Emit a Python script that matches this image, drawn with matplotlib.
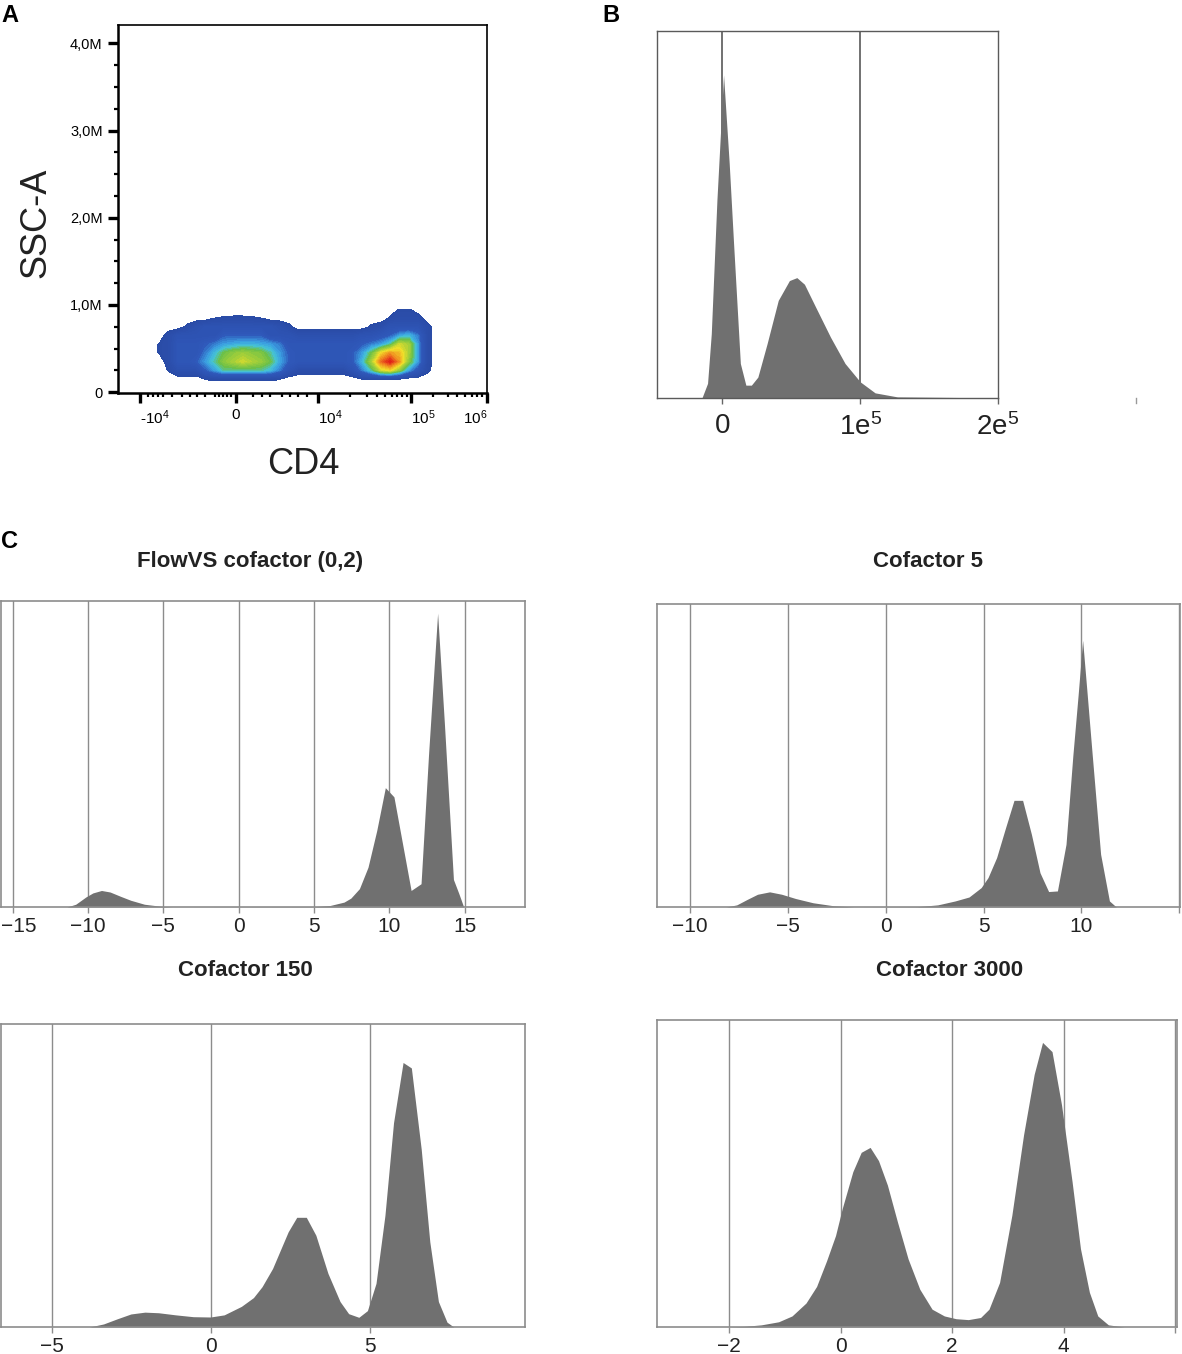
import numpy as np
import matplotlib
matplotlib.use("Agg")
import matplotlib.pyplot as plt
from matplotlib.colors import LinearSegmentedColormap
from matplotlib.ticker import FixedLocator
from matplotlib.transforms import ScaledTranslation

plt.rcParams['font.family'] = ['Liberation Sans', 'DejaVu Sans']
plt.rcParams['mathtext.fontset'] = 'custom'
plt.rcParams['mathtext.rm'] = 'Liberation Sans'
plt.rcParams['mathtext.it'] = 'Liberation Sans:italic'
plt.rcParams['mathtext.bf'] = 'Liberation Sans:bold'

# ---------------- panel A: CD4 vs SSC-A density ----------------
# CD4 in biexponential display channels (0..1000 across the axis), SSC-A in events units
cd4_channel = np.arange(62.5, 875, 25)          # 33 bin centres
ssc_centres = np.linspace(0.05, 0.95, 10) * 1e6  # 10 bin centres

# density level per bin, rows from SSC 0.95M (top) down to 0.05M
density_rows = [
    [0]*28 + [0.6, 0.6, 0, 0, 0],
    [0, 0, 0, 0, 0, 0, 0, 0, 0.5, 0.6, 0.65, 0.65, 0.6, 0.5, 0, 0, 0, 0, 0, 0, 0, 0, 0, 0, 0, 0, 0, 0.6, 1, 1, 1, 0, 0],
    [0, 0, 0, 0, 0, 0.7, 1.5, 2, 2, 2, 2, 2, 2, 2, 2, 1.5, 0.8, 0, 0, 0, 0, 0, 0, 0, 0, 0.7, 1, 2, 2, 2, 2, 1, 0],
    [0, 0, 0, 1, 2, 2, 2, 2, 2, 3, 3, 3, 3, 3, 2, 2, 2, 1.5, 1.5, 1.5, 1.5, 1.5, 1.5, 1.5, 2, 2, 2.5, 3, 4, 4.5, 3.5, 1, 0],
    [0, 0, 0.6, 1, 2.5, 2.5, 2.5, 3, 3.5, 4, 4.2, 4.4, 4.4, 4.2, 4, 3.5, 2.5, 2.5, 2.5, 2.5, 2.5, 2.5, 2.5, 2.5, 3, 3.5, 4, 5, 7, 6.5, 4, 1, 0],
    [0, 0, 0.6, 1, 2.5, 2.5, 2.5, 3.5, 4.5, 5.5, 6, 6.3, 6, 5.8, 5, 4, 3, 2.5, 2.5, 2.5, 2.5, 2.5, 2.5, 3, 4, 5.5, 7.5, 8.5, 8, 6.5, 4, 1, 0],
    [0, 0, 0, 1, 2.5, 2.5, 3, 4, 5, 6, 6.5, 7, 6.6, 6.2, 5.5, 4.2, 3, 2.5, 2.5, 2.5, 2.5, 2.5, 2.5, 3, 4.5, 6.5, 9, 10, 8.5, 6, 4, 1, 0],
    [0, 0, 0, 0.6, 1.5, 1.5, 1.5, 3, 4, 5, 5, 5, 5, 5, 4.5, 3.5, 2, 1, 1, 1, 1, 1, 1, 2, 3.5, 5, 7, 7.5, 6, 4, 2.5, 0.8, 0],
    [0, 0, 0, 0, 0, 0, 0, 0.55, 0.6, 0.6, 0.6, 0.6, 0.6, 0.6, 0.6, 0.55, 0, 0, 0, 0, 0, 0, 0, 0, 0.55, 0.55, 0.55, 0.55, 0.55, 0, 0, 0, 0],
    [0]*33,
]
density = np.array(density_rows)[::-1]

cd4_major = [60, 320, 542, 794, 1000]
cd4_labels = ['-10$^4$', '0', '10$^4$', '10$^5$', '10$^6$']
cd4_label_ha = ['left', 'center', 'left', 'left', 'right']
cd4_minor = [81, 95, 108, 122, 146, 173, 195, 214, 236, 263, 274, 285, 295, 306,
             366, 390, 412, 444, 466, 488, 512, 629, 675, 702, 724, 743, 756, 770, 783,
             854, 894, 919, 940, 959, 973, 986]
ssc_major = [0, 1e6, 2e6, 3e6, 4e6]
ssc_labels = ['0', '1,0M', '2,0M', '3,0M', '4,0M']
ssc_minor = [0.25e6, 0.5e6, 0.75e6, 1.25e6, 1.5e6, 1.75e6, 2.25e6, 2.5e6, 2.75e6,
             3.25e6, 3.5e6, 3.75e6]

# ---------------- panel B: raw CD4 histogram ----------------
b_x = [-0.149, -0.108, -0.081, -0.04, 0.008, 0.049, 0.081, 0.13, 0.17, 0.21, 0.257, 0.324,
       0.405, 0.486, 0.54, 0.595, 0.676, 0.784, 0.89, 1.0, 1.108, 1.27, 1.81, 2.0]
b_y = [0, 0.04, 0.175, 0.54, 0.88, 0.64, 0.42, 0.094, 0.035, 0.035, 0.057, 0.148,
       0.266, 0.32, 0.328, 0.31, 0.248, 0.166, 0.094, 0.044, 0.014, 0.003, 0.001, 0]
b_ticks = [0, 1e5, 2e5]
b_labels = ['0', '1e$^5$', '2e$^5$']

# ---------------- panel C: arcsinh transformed histograms ----------------
titles = ['FlowVS cofactor (0,2)', 'Cofactor 5', 'Cofactor 150', 'Cofactor 3000']

c1_x = [-11.4, -10.82, -10.14, -9.68, -9.11, -8.54, -7.85, -7.17, -6.26, -5.11, -4.43,
        5.0, 6.07, 6.99, 7.44, 8.01, 8.58, 9.16, 9.73, 10.3, 10.87, 11.44, 12.1, 12.6,
        13.2, 13.65, 14.25, 14.6, 14.93]
c1_y = [0, 0.009, 0.033, 0.046, 0.054, 0.049, 0.035, 0.022, 0.009, 0.002, 0,
        0.001, 0.005, 0.016, 0.029, 0.06, 0.13, 0.25, 0.39, 0.36, 0.207, 0.054, 0.076, 0.5,
        0.96, 0.6, 0.09, 0.045, 0]

c2_x = [-8.16, -7.62, -7.09, -6.56, -5.94, -5.32, -4.61, -3.72, -2.66, -1.6, 1.6, 2.66,
        3.55, 4.26, 4.88, 5.23, 5.67, 6.12, 6.56, 7.0, 7.45, 7.89, 8.33, 8.78, 9.22, 9.57,
        9.84, 10.07, 10.28, 10.55, 10.99, 11.44, 11.79]
c2_y = [0, 0.007, 0.025, 0.042, 0.05, 0.042, 0.028, 0.014, 0.004, 0, 0.001, 0.007,
        0.02, 0.033, 0.064, 0.097, 0.163, 0.26, 0.352, 0.352, 0.24, 0.113, 0.051, 0.053, 0.207, 0.5,
        0.70, 0.88, 0.72, 0.51, 0.174, 0.02, 0]

c3_x = [-3.82, -3.38, -2.95, -2.52, -2.08, -1.65, -1.11, -0.56, -0.02, 0.41, 0.95, 1.33,
        1.6, 1.93, 2.42, 2.69, 2.99, 3.29, 3.67, 4.05, 4.32, 4.64, 4.91, 5.18, 5.46, 5.73,
        6.03, 6.29, 6.6, 6.87, 7.14, 7.41, 7.62]
c3_y = [0, 0.01, 0.027, 0.043, 0.049, 0.047, 0.04, 0.034, 0.033, 0.04, 0.068, 0.097,
        0.133, 0.193, 0.314, 0.362, 0.362, 0.303, 0.177, 0.084, 0.044, 0.032, 0.054, 0.144, 0.368, 0.674,
        0.873, 0.855, 0.587, 0.281, 0.084, 0.016, 0]

c4_x = [-2.04, -1.73, -1.42, -1.11, -0.87, -0.62, -0.43, -0.25, -0.09, 0.03, 0.22, 0.37,
        0.53, 0.68, 0.84, 1.02, 1.21, 1.42, 1.64, 1.86, 2.07, 2.29, 2.51, 2.66, 2.85, 3.07,
        3.28, 3.47, 3.62, 3.79, 3.96, 4.15, 4.3, 4.46, 4.61, 4.8, 5.08]
c4_y = [0, 0.002, 0.007, 0.017, 0.036, 0.078, 0.132, 0.216, 0.298, 0.386, 0.506, 0.569,
        0.585, 0.542, 0.462, 0.342, 0.222, 0.123, 0.058, 0.036, 0.027, 0.024, 0.031, 0.058, 0.145, 0.364,
        0.626, 0.823, 0.927, 0.897, 0.724, 0.473, 0.255, 0.113, 0.036, 0.007, 0]

c_xs = [c1_x, c2_x, c3_x, c4_x]
c_ys = [c1_y, c2_y, c3_y, c4_y]
c_ticks = [[-15, -10, -5, 0, 5, 10, 15], [-10, -5, 0, 5, 10, 15], [-5, 0, 5], [-2, 0, 2, 4, 6]]
c_ticklabels = [['\u221215', '\u221210', '\u22125', '0', '5', '10', '15'],
                ['\u221210', '\u22125', '0', '5', '10', ''],
                ['\u22125', '0', '5'],
                ['\u22122', '0', '2', '4', '']]
c_xlims = [(-15.78, 19.0), (-11.7, 15.05), (-6.6, 9.86), (-3.29, 6.03)]

# ---------------- figure ----------------
W, H = 1182, 1354
fig = plt.figure(figsize=(W / 100, H / 100), dpi=100)


def px_box(l, t, r, b):
    return [l / W, 1 - b / H, (r - l) / W, (b - t) / H]


# panel A
axA = fig.add_axes(px_box(118, 25, 487, 393))
cmap = LinearSegmentedColormap.from_list('flow', [
    (0.0, '#2a4ba6'), (0.263, '#2f58ba'), (0.368, '#3a9de0'), (0.442, '#45c2d8'),
    (0.526, '#6cc048'), (0.632, '#a8d038'), (0.737, '#f2e02a'), (0.863, '#f08a20'),
    (1.0, '#e01818')])
axA.contourf(cd4_channel, ssc_centres, density, levels=np.linspace(0.5, 10.01, 40),
             cmap=cmap, vmin=0.5, vmax=10)
axA.set_xlim(0, 1000)
axA.set_ylim(-0.01e6, 4.21e6)
axA.set_xticks(cd4_major)
axA.set_xticklabels(cd4_labels)
for lab, ha in zip(axA.get_xticklabels(), cd4_label_ha):
    lab.set_ha(ha)
axA.xaxis.set_minor_locator(FixedLocator(cd4_minor))
axA.set_yticks(ssc_major)
axA.set_yticklabels(ssc_labels)
axA.yaxis.set_minor_locator(FixedLocator(ssc_minor))
axA.tick_params(which='major', length=7, width=2.4, color='black', labelsize=10.5, pad=4)
axA.tick_params(axis='x', which='major', labelsize=11)
axA.tick_params(which='minor', length=3.2, width=1.6, color='black')
for side in ['left', 'bottom']:
    axA.spines[side].set_linewidth(1.8)
for side in ['top', 'right']:
    axA.spines[side].set_linewidth(1.2)
fig.text(36 / W, 1 - 223 / H, 'SSC-A', rotation=90, ha='center', va='center',
         fontsize=26, color='#222222')
fig.text(303 / W, 1 - 464 / H, 'CD4', ha='center', va='center', fontsize=26, color='#222222')

# panel B
axB = fig.add_axes(px_box(657, 31, 998, 398))
axB.fill_between(np.array(b_x) * 1e5, b_y, 0, color='#707070', lw=0, zorder=2)
axB.set_xlim(-0.475e5, 2e5)
axB.set_ylim(0, 1)
axB.set_xticks(b_ticks)
axB.set_xticklabels(b_labels)
axB.set_yticks([])
axB.tick_params(axis='x', length=4, width=1, color='#666666', labelsize=20, pad=7,
                labelcolor='#222222')
for x in b_ticks[:2]:
    axB.axvline(x, color='#4a4a4a', lw=1.1, zorder=1)
axB.axvline(3e5, ymin=-0.014, ymax=0, color='#999999', lw=1, clip_on=False)
for sp in axB.spines.values():
    sp.set_color('#5a5a5a')
    sp.set_linewidth(1.0)

# panel C
c_boxes = [(1, 601, 525, 907), (657, 604, 1180, 907), (1, 1024, 525, 1327), (657, 1020, 1177, 1327)]
title_pos = [(250, 562), (928, 562), (245, 970), (950, 970)]
for i in range(4):
    ax = fig.add_axes(px_box(*c_boxes[i]))
    ax.fill_between(c_xs[i], c_ys[i], 0, color='#707070', lw=0, zorder=2)
    ax.set_xlim(*c_xlims[i])
    ax.set_ylim(0, 1)
    ax.set_xticks(c_ticks[i])
    ax.set_xticklabels(c_ticklabels[i])
    ax.set_yticks([])
    ax.grid(axis='x', color='#8c8c8c', lw=1.0, zorder=1)
    ax.set_axisbelow(True)
    ax.tick_params(axis='x', length=4, width=1, color='#8c8c8c', labelsize=15, pad=3,
                   labelcolor='#222222')
    for sp in ax.spines.values():
        sp.set_color('#8c8c8c')
        sp.set_linewidth(1.2)
    if i == 0:
        # first label sits a little right of its tick so it stays inside the figure
        first = ax.get_xticklabels()[0]
        first.set_transform(first.get_transform() + ScaledTranslation(6 / 100, 0, fig.dpi_scale_trans))
    tx, ty = title_pos[i]
    fig.text(tx / W, 1 - ty / H, titles[i], ha='center', va='center', fontsize=16,
             fontweight='bold', color='#222222')

# panel letters
for letter, (lx, ly) in zip('ABC', [(1, 16), (602, 16), (1, 541)]):
    fig.text(lx / W, 1 - ly / H, letter, ha='left', va='center', fontsize=17,
             fontweight='bold', color='black')

fig.savefig('out.png', dpi=100)
